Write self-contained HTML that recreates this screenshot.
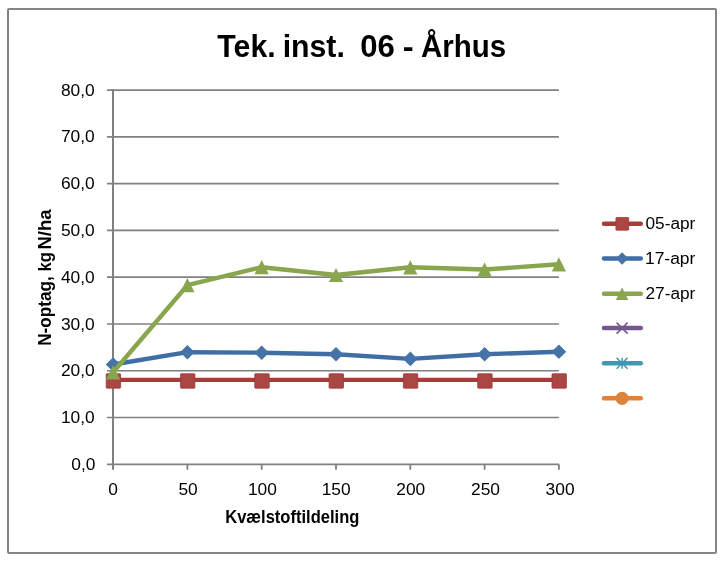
<!DOCTYPE html>
<html><head><meta charset="utf-8"><title>Tek. inst. 06 - Århus</title>
<style>
html,body{margin:0;padding:0;background:#fff;}
body{width:725px;height:561px;overflow:hidden;}
svg{display:block;}
text{font-family:"Liberation Sans",sans-serif;fill:#000;}
.b{font-weight:bold;}
</style></head><body>
<svg width="725" height="561" viewBox="0 0 725 561">
<rect x="0" y="0" width="725" height="561" fill="#fff"/>
<rect x="8" y="9" width="708" height="544" rx="1" fill="#fff" stroke="#848484" stroke-width="2"/>

<g stroke="#808080" stroke-width="1.7" fill="none">
<line x1="107" y1="464.30" x2="558.90" y2="464.30"/>
<line x1="107" y1="417.52" x2="558.90" y2="417.52"/>
<line x1="107" y1="370.75" x2="558.90" y2="370.75"/>
<line x1="107" y1="323.98" x2="558.90" y2="323.98"/>
<line x1="107" y1="277.20" x2="558.90" y2="277.20"/>
<line x1="107" y1="230.42" x2="558.90" y2="230.42"/>
<line x1="107" y1="183.65" x2="558.90" y2="183.65"/>
<line x1="107" y1="136.87" x2="558.90" y2="136.87"/>
<line x1="107" y1="90.10" x2="558.90" y2="90.10"/>
<line x1="113.00" y1="89.25" x2="113.00" y2="469.70" stroke-width="2"/>
<line x1="187.40" y1="464.30" x2="187.40" y2="469.70" stroke-width="1.8"/>
<line x1="261.70" y1="464.30" x2="261.70" y2="469.70" stroke-width="1.8"/>
<line x1="336.00" y1="464.30" x2="336.00" y2="469.70" stroke-width="1.8"/>
<line x1="410.30" y1="464.30" x2="410.30" y2="469.70" stroke-width="1.8"/>
<line x1="484.60" y1="464.30" x2="484.60" y2="469.70" stroke-width="1.8"/>
<line x1="558.90" y1="464.30" x2="558.90" y2="469.70" stroke-width="1.8"/>
</g>
<polyline points="113.1,379.9 187.4,379.9 261.7,379.9 336.0,379.9 410.3,379.9 484.6,379.9 558.9,379.9" fill="none" stroke="#A83C3A" stroke-width="4.4" stroke-linejoin="round" stroke-linecap="round"/>
<rect x="106.20" y="373.75" width="14.40" height="14.40" rx="0.6" fill="#AA4643" stroke="#A23735" stroke-width="0.8" stroke-linejoin="round"/>
<rect x="180.50" y="373.75" width="14.40" height="14.40" rx="0.6" fill="#AA4643" stroke="#A23735" stroke-width="0.8" stroke-linejoin="round"/>
<rect x="254.80" y="373.75" width="14.40" height="14.40" rx="0.6" fill="#AA4643" stroke="#A23735" stroke-width="0.8" stroke-linejoin="round"/>
<rect x="329.10" y="373.75" width="14.40" height="14.40" rx="0.6" fill="#AA4643" stroke="#A23735" stroke-width="0.8" stroke-linejoin="round"/>
<rect x="403.40" y="373.75" width="14.40" height="14.40" rx="0.6" fill="#AA4643" stroke="#A23735" stroke-width="0.8" stroke-linejoin="round"/>
<rect x="477.70" y="373.75" width="14.40" height="14.40" rx="0.6" fill="#AA4643" stroke="#A23735" stroke-width="0.8" stroke-linejoin="round"/>
<rect x="552.00" y="373.75" width="14.40" height="14.40" rx="0.6" fill="#AA4643" stroke="#A23735" stroke-width="0.8" stroke-linejoin="round"/>
<polyline points="113.1,364.5 187.4,352.2 261.7,352.7 336.0,354.3 410.3,358.9 484.6,354.3 558.9,351.7" fill="none" stroke="#3F6DA5" stroke-width="4.4" stroke-linejoin="round" stroke-linecap="round"/>
<polygon points="113.1,357.2 120.4,364.5 113.1,371.8 105.8,364.5" fill="#4572A7"/>
<polygon points="187.4,344.9 194.7,352.2 187.4,359.5 180.1,352.2" fill="#4572A7"/>
<polygon points="261.7,345.4 269.0,352.7 261.7,360.0 254.4,352.7" fill="#4572A7"/>
<polygon points="336.0,347.0 343.3,354.3 336.0,361.6 328.7,354.3" fill="#4572A7"/>
<polygon points="410.3,351.6 417.6,358.9 410.3,366.2 403.0,358.9" fill="#4572A7"/>
<polygon points="484.6,347.0 491.9,354.3 484.6,361.6 477.3,354.3" fill="#4572A7"/>
<polygon points="558.9,344.4 566.2,351.7 558.9,359.0 551.6,351.7" fill="#4572A7"/>
<polyline points="113.1,372.3 187.4,285.2 261.7,267.2 336.0,275.0 410.3,267.3 484.6,269.5 558.9,264.3" fill="none" stroke="#89A54E" stroke-width="4.4" stroke-linejoin="round" stroke-linecap="round"/>
<polygon points="113.1,365.2 120.2,379.4 106.0,379.4" fill="#89A54E"/>
<polygon points="187.4,278.1 194.5,292.3 180.3,292.3" fill="#89A54E"/>
<polygon points="261.7,260.1 268.8,274.3 254.6,274.3" fill="#89A54E"/>
<polygon points="336.0,267.9 343.1,282.1 328.9,282.1" fill="#89A54E"/>
<polygon points="410.3,260.2 417.4,274.4 403.2,274.4" fill="#89A54E"/>
<polygon points="484.6,262.4 491.7,276.6 477.5,276.6" fill="#89A54E"/>
<polygon points="558.9,257.2 566.0,271.4 551.8,271.4" fill="#89A54E"/>
<line x1="604.0" y1="223.8" x2="640.8" y2="223.8" stroke="#A83C3A" stroke-width="4.5" stroke-linecap="round"/>
<rect x="615.95" y="217.45" width="12.70" height="12.70" rx="0.6" fill="#AA4643" stroke="#A23735" stroke-width="0.8" stroke-linejoin="round"/>
<line x1="604.0" y1="258.5" x2="640.8" y2="258.5" stroke="#3F6DA5" stroke-width="4.5" stroke-linecap="round"/>
<polygon points="622.1,252.3 628.3,258.5 622.1,264.7 615.9,258.5" fill="#4572A7"/>
<line x1="604.0" y1="293.7" x2="640.8" y2="293.7" stroke="#89A54E" stroke-width="4.5" stroke-linecap="round"/>
<polygon points="622.1,287.4 628.4,300.0 615.8,300.0" fill="#89A54E"/>
<line x1="604.0" y1="328.1" x2="640.8" y2="328.1" stroke="#71588F" stroke-width="4.5" stroke-linecap="round"/>
<path d="M616.6 322.6l11 11m0 -11l-11 11" stroke="#71588F" stroke-width="1.5" fill="none"/>
<line x1="604.0" y1="363.2" x2="640.8" y2="363.2" stroke="#4198AF" stroke-width="4.5" stroke-linecap="round"/>
<path d="M616.6 357.7l11 11m0 -11l-11 11M622.1 357.7v11" stroke="#4198AF" stroke-width="1.5" fill="none"/>
<line x1="604.0" y1="398.3" x2="640.8" y2="398.3" stroke="#DB843D" stroke-width="4.5" stroke-linecap="round"/>
<circle cx="622.1" cy="398.3" r="6.6" fill="#DB843D"/>
<text x="71.30" y="469.90" font-size="16px" textLength="24.14" lengthAdjust="spacingAndGlyphs">0,0</text>
<text x="60.91" y="423.12" font-size="16px" textLength="33.79" lengthAdjust="spacingAndGlyphs">10,0</text>
<text x="60.91" y="376.35" font-size="16px" textLength="33.79" lengthAdjust="spacingAndGlyphs">20,0</text>
<text x="60.91" y="329.58" font-size="16px" textLength="33.79" lengthAdjust="spacingAndGlyphs">30,0</text>
<text x="60.91" y="282.80" font-size="16px" textLength="33.79" lengthAdjust="spacingAndGlyphs">40,0</text>
<text x="60.91" y="236.02" font-size="16px" textLength="33.79" lengthAdjust="spacingAndGlyphs">50,0</text>
<text x="60.91" y="189.25" font-size="16px" textLength="33.79" lengthAdjust="spacingAndGlyphs">60,0</text>
<text x="60.91" y="142.47" font-size="16px" textLength="33.79" lengthAdjust="spacingAndGlyphs">70,0</text>
<text x="60.91" y="95.70" font-size="16px" textLength="33.79" lengthAdjust="spacingAndGlyphs">80,0</text>
<text x="108.22" y="495.00" font-size="16px" textLength="9.66" lengthAdjust="spacingAndGlyphs">0</text>
<text x="178.44" y="495.00" font-size="16px" textLength="19.31" lengthAdjust="spacingAndGlyphs">50</text>
<text x="247.92" y="495.00" font-size="16px" textLength="28.97" lengthAdjust="spacingAndGlyphs">100</text>
<text x="321.72" y="495.00" font-size="16px" textLength="28.97" lengthAdjust="spacingAndGlyphs">150</text>
<text x="396.29" y="495.00" font-size="16px" textLength="28.97" lengthAdjust="spacingAndGlyphs">200</text>
<text x="470.99" y="495.00" font-size="16px" textLength="28.97" lengthAdjust="spacingAndGlyphs">250</text>
<text x="545.59" y="495.00" font-size="16px" textLength="28.97" lengthAdjust="spacingAndGlyphs">300</text>
<text x="645.49" y="229.40" font-size="16px" textLength="49.88" lengthAdjust="spacingAndGlyphs">05-apr</text>
<text x="644.94" y="264.10" font-size="16px" textLength="50.44" lengthAdjust="spacingAndGlyphs">17-apr</text>
<text x="645.49" y="299.30" font-size="16px" textLength="49.88" lengthAdjust="spacingAndGlyphs">27-apr</text>
<text x="225.22" y="522.70" font-size="17.5px" class="b" textLength="134.12" lengthAdjust="spacingAndGlyphs">Kvælstoftildeling</text>
<text class="b" font-size="32px" y="57" xml:space="preserve"><tspan x="217.36" textLength="58.27" lengthAdjust="spacingAndGlyphs">Tek.</tspan> <tspan x="282.67" textLength="62.18" lengthAdjust="spacingAndGlyphs">inst.</tspan> <tspan x="360.29" textLength="34.58" lengthAdjust="spacingAndGlyphs">06</tspan> <tspan x="402.72" textLength="10.92" lengthAdjust="spacingAndGlyphs">-</tspan> <tspan x="420.91" textLength="85.10" lengthAdjust="spacingAndGlyphs">Århus</tspan></text>
<text class="b" font-size="17.5px" y="0" transform="translate(50.6 345.0) rotate(-90)" xml:space="preserve"><tspan x="-0.83" textLength="69.62" lengthAdjust="spacingAndGlyphs">N-optag,</tspan> <tspan x="73.53" textLength="19.19" lengthAdjust="spacingAndGlyphs">kg</tspan> <tspan x="95.48" textLength="40.16" lengthAdjust="spacingAndGlyphs">N/ha</tspan></text>
</svg></body></html>
